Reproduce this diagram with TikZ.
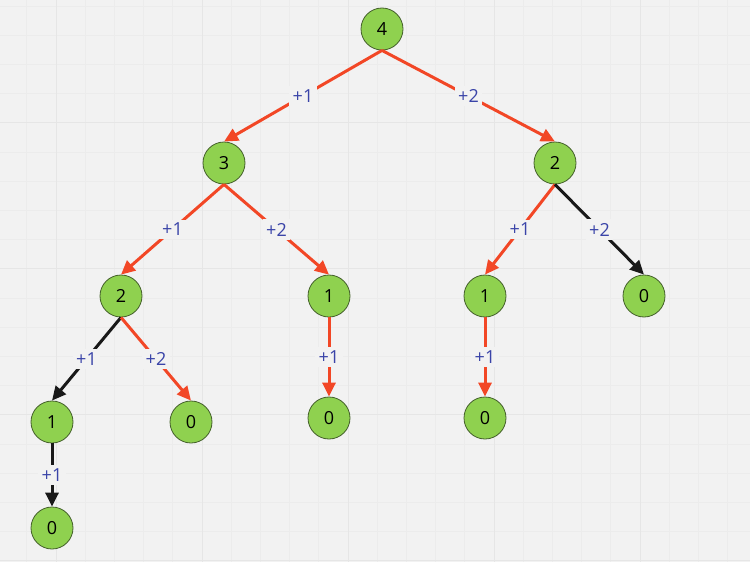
\documentclass[tikz,border=0pt]{standalone}
\usepackage{fontspec}
\setmainfont{Open Sans}
\usetikzlibrary{arrows.meta}
\definecolor{nen}{HTML}{F2F2F2}
\definecolor{luoinho}{HTML}{ECECEC}
\definecolor{luoilon}{HTML}{E6E6E6}
\definecolor{xanh}{HTML}{8FD14F}
\definecolor{vien}{HTML}{44602B}
\definecolor{cam}{HTML}{F24726}
\definecolor{chu}{HTML}{3A44A8}
\begin{document}
\begin{tikzpicture}[x=1pt,y=-1pt,line join=round,>={Triangle[length=14pt,width=13pt]},
	nut/.style={circle,draw=vien,fill=xanh,line width=0.8pt,minimum size=42pt,inner sep=0pt,font=\fontsize{18}{18}\selectfont},
	do/.style={->,draw=cam,line width=3pt},
	den/.style={->,draw=black!90,line width=3pt},
	nhan/.style={fill=nen,text=chu,inner sep=3.5pt,font=\fontsize{18}{18}\selectfont}]
	
	\def\rong{750} \def\cao{562}
	\fill[nen] (0,0) rectangle (\rong,\cao);
	\useasboundingbox (0,0) rectangle (\rong,\cao);
	\foreach \i in {0,...,26}
	\draw[luoinho,line width=0.8pt] ({-2.4+29.2*\i},0) -- ({-2.4+29.2*\i},\cao);
	\foreach \j in {0,...,19}
	\draw[luoinho,line width=0.8pt] (0,{5.9+29.2*\j}) -- (\rong,{5.9+29.2*\j});
	\foreach \i in {0,...,4}
	\draw[luoilon,line width=1pt] ({56+146*\i},0) -- ({56+146*\i},\cao);
	\foreach \j in {0,...,3}
	\draw[luoilon,line width=1pt] (0,{122.7+146*\j}) -- (\rong,{122.7+146*\j});
	
	\node[nut] (A) at (382,29) {4};
	\node[nut] (B) at (224,163) {3};
	\node[nut] (C) at (555,163) {2};
	\node[nut] (D) at (121,296) {2};
	\node[nut] (E) at (329,296) {1};
	\node[nut] (F) at (485,296) {1};
	\node[nut] (G) at (644,296) {0};
	\node[nut] (H) at (52,422) {1};
	\node[nut] (I) at (191,422) {0};
	\node[nut] (K) at (329,418) {0};
	\node[nut] (L) at (485,418) {0};
	\node[nut] (M) at (52,528) {0};
	
	\draw[do] (A.south) -- node[nhan]{+1} (B.north);
	\draw[do] (A.south) -- node[nhan]{+2} (C.north);
	\draw[do] (B.south) -- node[nhan]{+1} (D.north);
	\draw[do] (B.south) -- node[nhan]{+2} (E.north);
	\draw[do] (C.south) -- node[nhan]{+1} (F.north);
	\draw[den] (C.south) -- node[nhan]{+2} (G.north);
	\draw[den] (D.south) -- node[nhan]{+1} (H.north);
	\draw[do] (D.south) -- node[nhan]{+2} (I.north);
	\draw[do] (E.south) -- node[nhan]{+1} (K.north);
	\draw[do] (F.south) -- node[nhan]{+1} (L.north);
	\draw[den] (H.south) -- node[nhan]{+1} (M.north);
\end{tikzpicture}
\end{document}
